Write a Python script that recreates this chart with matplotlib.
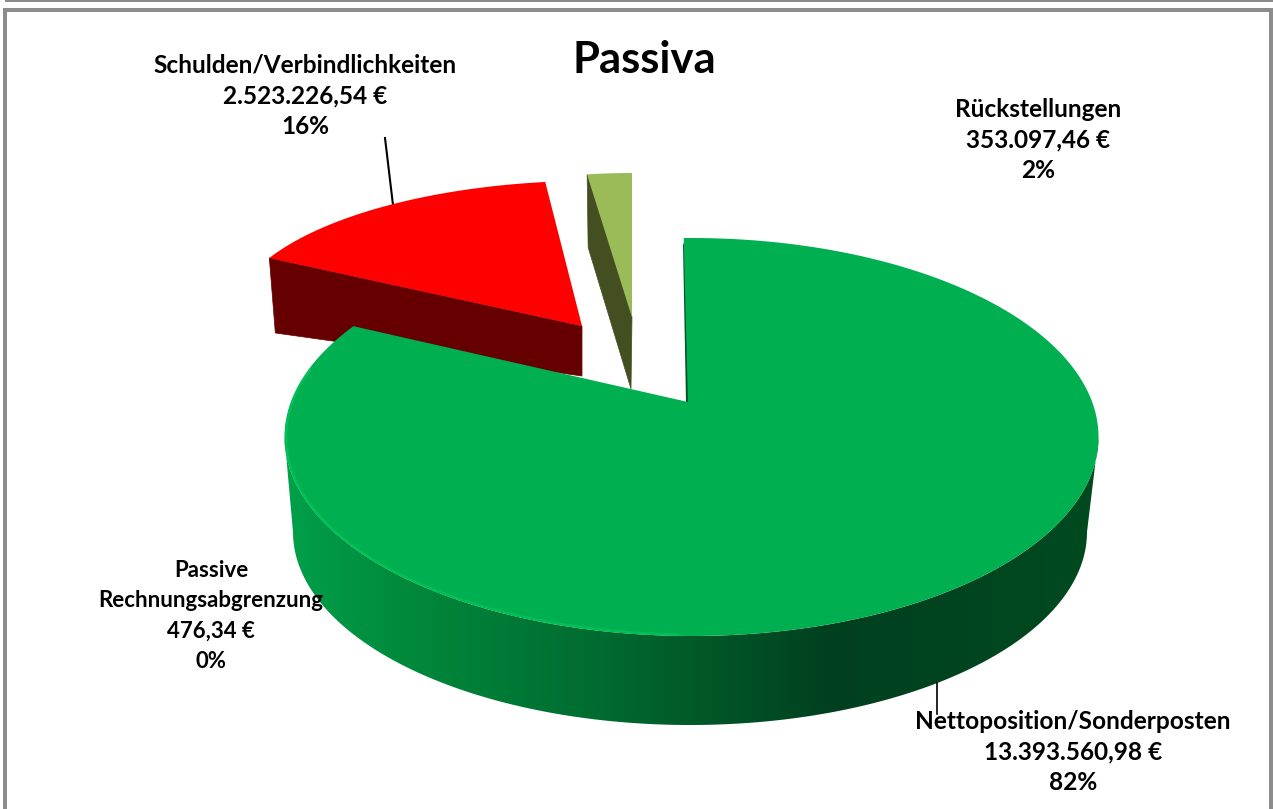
import numpy as np
import matplotlib
matplotlib.use('Agg')
import matplotlib.pyplot as plt
from matplotlib.patches import Polygon, Rectangle

# Daten
names = ['Nettoposition/Sonderposten', 'Passive\nRechnungsabgrenzung', 'Schulden/Verbindlichkeiten', 'Rückstellungen']
values = [13393560.98, 476.34, 2523226.54, 353097.46]
amounts = ['13.393.560,98 €', '476,34 €', '2.523.226,54 €', '353.097,46 €']
percents = ['82%', '0%', '16%', '2%']
title = 'Passiva'

# Winkel im Uhrzeigersinn ab 12 Uhr
total = sum(values)
edges = np.cumsum([0] + values) / total * 360
main_start, main_end = edges[0], edges[1]
debt_start, debt_end = edges[2], edges[3]
prov_start, prov_end = edges[3], edges[4]

plt.rcParams['font.family'] = ['Lato', 'DejaVu Sans']
fig = plt.figure(figsize=(12.73, 8.09), dpi=100)
ax = fig.add_axes([0, 0, 1, 1])


def rim(theta, cx, cy, a, b):
    t = np.radians(theta)
    return np.column_stack([cx + a*np.sin(t), cy - b*np.cos(t)])


# Rahmen
gray = '#8c8c8c'
ax.add_patch(Rectangle((5, 0), 1268, 2, color=gray, lw=0))
ax.add_patch(Rectangle((3, 8), 1270, 4, color=gray, lw=0))
ax.add_patch(Rectangle((3, 8), 4, 801, color=gray, lw=0))
ax.add_patch(Rectangle((1269, 8), 4, 801, color=gray, lw=0))

# Schulden (rot)
debt = rim(np.linspace(debt_start, debt_end, 60), 594.6, 319.7, 363, 139)
debt_apex = np.array([[582, 326]])
ax.add_patch(Polygon([debt[0], debt_apex[0], debt_apex[0] + [0, 50], debt[0] + [6, 75]],
                     color='#660000', lw=0.5, zorder=2))
ax.add_patch(Polygon(np.vstack([debt, debt_apex]), color='#ff0000', lw=0, zorder=3))

# Rückstellungen
prov = rim(np.linspace(prov_start, prov_end, 10), 632, 323, 330, 150)
prov_apex = np.array([[632, 317]])
ax.add_patch(Polygon([prov[0], prov_apex[0], prov_apex[0] + [-1, 72], prov[0] + [1, 73]],
                     color='#434f20', lw=0.5, zorder=2))
ax.add_patch(Polygon(np.vstack([prov, prov_apex]), color='#9bbb59', lw=0, zorder=3))

# Seitenwand Hauptsegment als Verlauf
main_apex = np.array([[688, 402]])
xs = np.arange(280, 1105)
gs = np.interp(xs, [285, 400, 600, 830, 1100], [160, 138, 107, 64, 74]) / 255
bs = np.interp(xs, [285, 400, 600, 830, 1100], [74, 60, 48, 31, 31]) / 255
grad = np.dstack([np.zeros_like(gs), gs, bs])
im = ax.imshow(grad, extent=[280, 1105, 740, 400], aspect='auto', zorder=4, interpolation='bilinear')
ths = np.linspace(90, 270, 200)
wall = Polygon(np.vstack([rim(ths, 691.5, 437, 407, 199), rim(ths[::-1], 690, 532, 397, 193)]),
               transform=ax.transData, fill=False, lw=0)
ax.add_patch(wall)
im.set_clip_path(wall)

# Innenkante rechts
ax.add_patch(Polygon([[683, 245], [686, 402], [691, 402], [686, 238]], color='#00552a', lw=0, zorder=4))

# Oberseite Hauptsegment
main = rim(np.linspace(main_start*1.031 - 1.1, main_end*1.029 - 1.1, 400), 691.5, 437, 407, 199)
ax.add_patch(Polygon(np.vstack([main, main_apex]), color='#00b050', lw=0, zorder=5))

# heller Rand unten links
glow = rim(np.linspace(182, 290, 120), 691.5, 437, 405.5, 197.5)
ax.plot(glow[:, 0], glow[:, 1], color='#00c056', lw=1.6, zorder=6, solid_capstyle='round')

# Führungslinien
ax.plot([385, 393], [138, 205], color='black', lw=1.5, zorder=1)
ax.plot([937, 937], [683, 714], color='black', lw=1.2, zorder=7)

# Texte
ax.text(644, 60, title, fontsize=31.4, fontweight='bold', ha='center', va='center')
label_pos = [(1073, 752), (211, 616), (305, 96), (1038, 140)]
label_size = [17.6, 16, 17.6, 17.6]
for name, amount, pct, (x, y), fs in zip(names, amounts, percents, label_pos, label_size):
    ax.text(x, y, name + '\n' + amount + '\n' + pct, fontsize=fs, fontweight='bold', ha='center',
            va='center', linespacing=1.42 * 17.6 / fs, zorder=8)

ax.set_xlim(0, 1273)
ax.set_ylim(809, 0)
ax.axis('off')

fig.savefig('out.png', dpi=100)
